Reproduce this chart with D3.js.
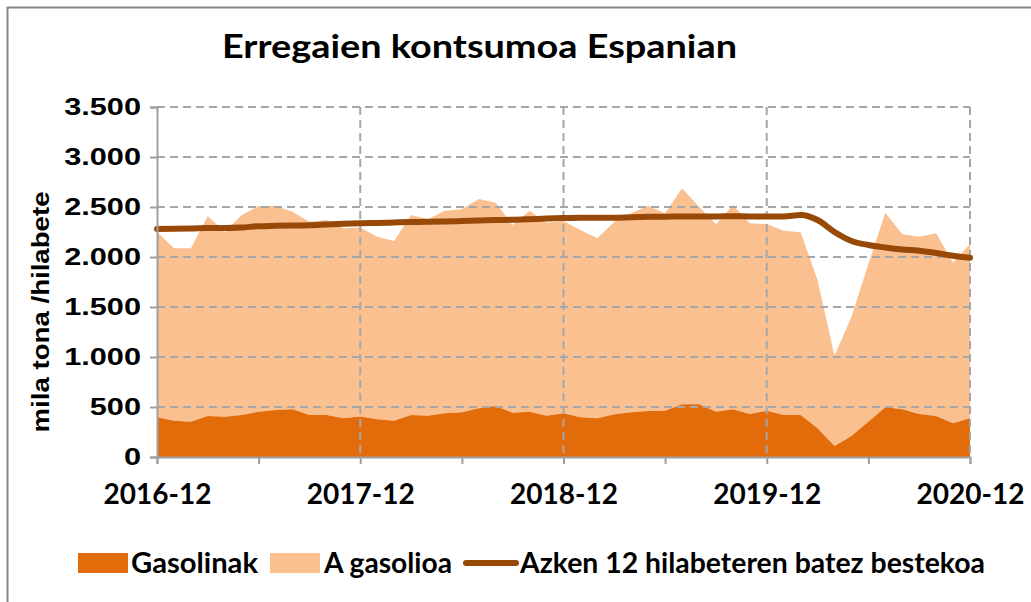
<!DOCTYPE html>
<html>
<head>
<meta charset="utf-8">
<script src="https://cdnjs.cloudflare.com/ajax/libs/d3/7.8.5/d3.min.js"></script>
<style>
  body { margin: 0; background: #fff; }
  text { font-family: Lato, "Open Sans", sans-serif; font-weight: bold; fill: #000; }
</style>
</head>
<body>
<div id="chart"></div>
<script>
// monthly values, 2016-12 .. 2020-12 (thousand tonnes / month)
var months = d3.range(49);
var tickLabels = ["2016-12", "2017-12", "2018-12", "2019-12", "2020-12"];

var gasolinak = [397, 363, 353, 410, 403, 420, 453, 470, 477, 420, 420, 387, 405,
                 377, 363, 420, 413, 437, 447, 487, 510, 443, 453, 413, 437,
                 397, 387, 427, 447, 460, 463, 527, 527, 453, 477, 430, 463,
                 420, 420, 287, 110, 210, 353, 497, 477, 430, 410, 337, 387];

var total = [2253, 2087, 2087, 2410, 2250, 2420, 2510, 2510, 2453, 2353, 2370, 2287, 2295,
             2203, 2160, 2420, 2377, 2463, 2477, 2580, 2543, 2320, 2463, 2343, 2360,
             2270, 2187, 2353, 2437, 2510, 2437, 2687, 2503, 2327, 2520, 2337, 2330,
             2263, 2247, 1770, 1013, 1403, 1930, 2443, 2227, 2203, 2237, 1943, 2130];

var batezBestekoa = [2280, 2282, 2285, 2290, 2290, 2295, 2308, 2312, 2315, 2318, 2325, 2332, 2337,
                     2340, 2345, 2350, 2352, 2355, 2360, 2365, 2370, 2372, 2378, 2385, 2390,
                     2393, 2393, 2392, 2398, 2402, 2403, 2405, 2405, 2405, 2408, 2405, 2405,
                     2405, 2420, 2370, 2250, 2160, 2120, 2095, 2075, 2062, 2040, 2012, 1992];

var gasolioa = total.map(function(t, i) { return t - gasolinak[i]; });

var rows = months.map(function(m, i) {
  return {month: m, gasolinak: gasolinak[i], gasolioa: gasolioa[i]};
});

var W = 1031, H = 602;
var margin = {top: 107, right: 61, bottom: 145, left: 157},
    width = W - margin.left - margin.right,
    height = H - margin.top - margin.bottom;

var svg = d3.select("#chart").append("svg")
  .attr("width", W).attr("height", H);

// outer frame
svg.append("rect")
  .attr("x", 7.5).attr("y", 7.5).attr("width", W).attr("height", H)
  .attr("fill", "none").attr("stroke", "#878787").attr("stroke-width", 2);

var g = svg.append("g")
  .attr("transform", "translate(" + margin.left + "," + margin.top + ")");

var x = d3.scaleLinear().domain([0, 48]).range([0, width]);
var y = d3.scaleLinear().domain([0, 3500]).range([height, 0]);

// stacked areas
var stack = d3.stack().keys(["gasolinak", "gasolioa"]);
var series = stack(rows);
var colors = {gasolinak: "#E36C0A", gasolioa: "#FAC090"};

var area = d3.area()
  .x(function(d) { return x(d.data.month); })
  .y0(function(d) { return y(d[0]); })
  .y1(function(d) { return y(d[1]); });

g.selectAll(".layer")
  .data(series.slice().reverse())
  .enter().append("path")
  .attr("class", "layer")
  .attr("d", area)
  .attr("fill", function(d) { return colors[d.key]; });

// grid lines (dashed, drawn over the areas)
g.append("g")
  .selectAll("line")
  .data(d3.range(500, 3501, 500))
  .enter().append("line")
  .attr("x1", 0).attr("x2", width)
  .attr("y1", function(d) { return y(d); }).attr("y2", function(d) { return y(d); })
  .attr("stroke", "#A6A6A6").attr("stroke-width", 2).attr("stroke-dasharray", "8,5");

g.append("g")
  .selectAll("line")
  .data([12, 24, 36, 48])
  .enter().append("line")
  .attr("x1", function(d) { return x(d); }).attr("x2", function(d) { return x(d); })
  .attr("y1", 0).attr("y2", height)
  .attr("stroke", "#A6A6A6").attr("stroke-width", 2).attr("stroke-dasharray", "8,5");

// moving average line
var line = d3.line()
  .x(function(d, i) { return x(i); })
  .y(function(d) { return y(d); })
  .curve(d3.curveMonotoneX);

g.append("path")
  .datum(batezBestekoa)
  .attr("d", line)
  .attr("fill", "none")
  .attr("stroke", "#984807")
  .attr("stroke-width", 6)
  .attr("stroke-linecap", "round");

// y axis
var yAxis = g.append("g")
  .call(d3.axisLeft(y).tickValues(d3.range(0, 3501, 500)).tickSize(7).tickPadding(8)
    .tickFormat(function(d) { return d3.format(",")(d).replace(",", "."); }));
yAxis.select(".domain").attr("stroke", "#A0A0A0").attr("stroke-width", 2);
yAxis.selectAll(".tick line").attr("stroke", "#A0A0A0").attr("stroke-width", 2);
yAxis.selectAll("text")
  .attr("font-family", null)
  .attr("x", 0)
  .attr("transform", "translate(-16,0) scale(1.28,1)")
  .style("font-family", "'Liberation Sans', Arial, sans-serif")
  .style("font-size", "24px");

// x axis
var xAxis = g.append("g")
  .attr("transform", "translate(0," + height + ")")
  .call(d3.axisBottom(x).tickValues(d3.range(0, 49, 6)).tickSize(7).tickPadding(20)
    .tickFormat(function(d) { return d % 12 === 0 ? tickLabels[d / 12] : ""; }));
xAxis.select(".domain").attr("stroke", "#A0A0A0").attr("stroke-width", 2);
xAxis.selectAll(".tick line").attr("stroke", "#A0A0A0").attr("stroke-width", 2);
xAxis.selectAll("text").style("font-size", "28px").attr("font-family", null);

// title
svg.append("text")
  .attr("x", 222).attr("y", 58)
  .attr("textLength", 515).attr("lengthAdjust", "spacingAndGlyphs")
  .style("font-size", "33px")
  .text("Erregaien kontsumoa Espanian");

// y axis title
svg.append("text")
  .attr("transform", "translate(49,312) rotate(-90)")
  .attr("text-anchor", "middle")
  .attr("textLength", 241).attr("lengthAdjust", "spacingAndGlyphs")
  .style("font-family", "'Liberation Sans', Arial, sans-serif")
  .style("font-size", "23px")
  .text("mila  tona /hilabete");

// legend
var legend = svg.append("g").attr("transform", "translate(0,563)");
legend.append("rect").attr("x", 78).attr("y", -10).attr("width", 50).attr("height", 20).attr("fill", colors.gasolinak);
legend.append("text").attr("x", 131).attr("y", 10).style("font-size", "28px")
  .attr("textLength", 127).attr("lengthAdjust", "spacingAndGlyphs").text("Gasolinak");
legend.append("rect").attr("x", 270).attr("y", -10).attr("width", 50).attr("height", 20).attr("fill", colors.gasolioa);
legend.append("text").attr("x", 324).attr("y", 10).style("font-size", "28px")
  .attr("textLength", 128).attr("lengthAdjust", "spacingAndGlyphs").text("A gasolioa");
legend.append("line").attr("x1", 466).attr("x2", 516).attr("y1", 0).attr("y2", 0)
  .attr("stroke", "#984807").attr("stroke-width", 6).attr("stroke-linecap", "round");
legend.append("text").attr("x", 520).attr("y", 10).style("font-size", "28px")
  .attr("textLength", 465).attr("lengthAdjust", "spacingAndGlyphs")
  .text("Azken 12 hilabeteren batez bestekoa");
</script>
</body>
</html>
